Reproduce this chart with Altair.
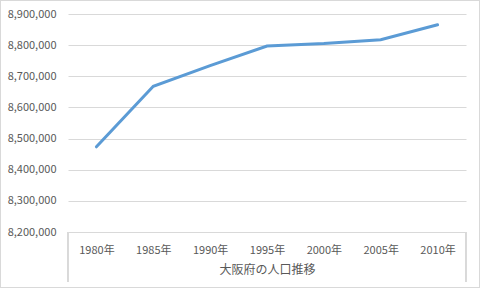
import altair as alt
import pandas as pd

years = ["1980", "1985", "1990", "1995", "2000", "2005", "2010"]
population = [8473446, 8668095, 8734516, 8797268, 8805081, 8817166, 8865245]
y_ticks = [8200000, 8300000, 8400000, 8500000, 8600000, 8700000, 8800000, 8900000]
x_title = "大阪府の人口推移"

df = pd.DataFrame({"year": years, "pop": population})

FONT = "Noto Sans CJK JP"
GRAY = "#595959"
GRID = "#D9D9D9"
W, H = 398, 218

line = alt.Chart(df).mark_line(color="#5B9BD5", strokeWidth=3, strokeCap="round").encode(
    x=alt.X("year:N", sort=years,
            scale=alt.Scale(paddingInner=0, paddingOuter=0),
            axis=alt.Axis(title=x_title, labelAngle=0, labelExpr="datum.value + '年'",
                          labelFont=FONT, labelFontSize=11, labelColor=GRAY,
                          labelPadding=12, ticks=False, domainColor=GRID, domainWidth=1,
                          titleFont=FONT, titleFontSize=12, titleFontWeight="normal",
                          titleColor=GRAY, titlePadding=9)),
    y=alt.Y("pop:Q", scale=alt.Scale(domain=[8200000, 8900000], nice=False, zero=False),
            axis=alt.Axis(title=None, values=y_ticks, format=",d", domain=False, ticks=False,
                          labelFont=FONT, labelFontSize=11, labelColor=GRAY, labelPadding=12,
                          gridColor=GRID, gridWidth=1)),
)

box_left = alt.Chart(df).mark_rule(color=GRID, strokeWidth=1).encode(
    x=alt.value(0), y=alt.value(H), y2=alt.value(H + 50))
box_right = alt.Chart(df).mark_rule(color=GRID, strokeWidth=1).encode(
    x=alt.value(W), y=alt.value(H), y2=alt.value(H + 50))
border = alt.Chart(df).mark_rect(fill=None, stroke=GRID, strokeWidth=1).encode(
    x=alt.value(-67.5), x2=alt.value(W + 13.5), y=alt.value(-13.5), y2=alt.value(H + 55.5))

chart = alt.layer(line, box_left, box_right, border).properties(
    width=W, height=H,
    padding={"left": 68, "top": 14, "right": 14, "bottom": 56},
    autosize=alt.AutoSizeParams(type="none"),
    background="white",
).configure_view(stroke=None)

chart.save("out.html", embed_options={"renderer": "svg", "actions": False})
